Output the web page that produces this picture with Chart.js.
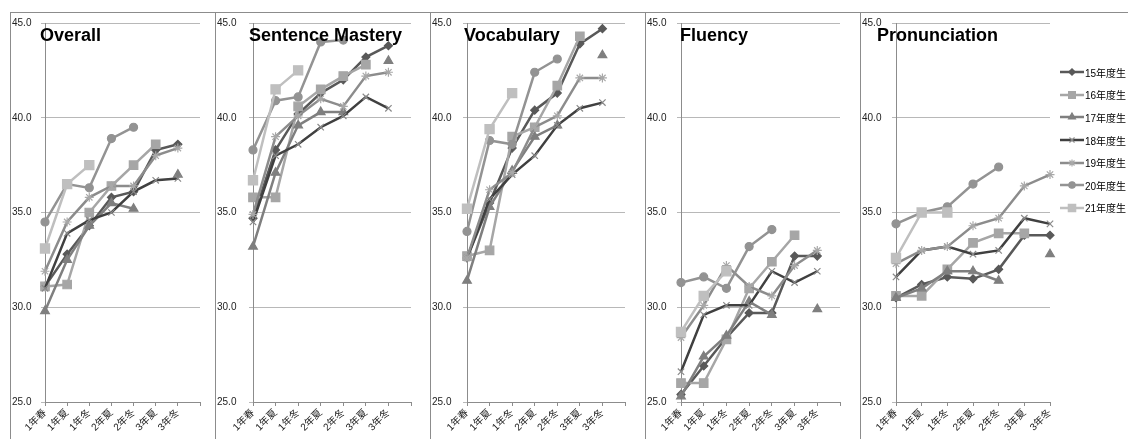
<!DOCTYPE html>
<html>
<head>
<meta charset="utf-8">
<script src="https://cdn.jsdelivr.net/npm/chart.js@4.4.1/dist/chart.umd.min.js"></script>
<style>
body { margin: 0; background: #fff; width: 1128px; height: 439px; overflow: hidden; position: relative;
       font-family: "Liberation Sans", "Noto Sans CJK JP", sans-serif; }
.panel { position: absolute; top: 12px; height: 427px; }
.panel canvas { position: absolute; left: 0; top: 0; }
.frame { position: absolute; left: 0; top: 0; right: 0; bottom: 0; border-left: 1px solid #8c8c8c; border-top: 1px solid #8c8c8c; pointer-events: none; }
#legend { position: absolute; left: 1060px; top: 61px; }
.item { height: 22.6px; display: flex; align-items: center; font-size: 10px; color: #000; }
.item canvas { margin-right: 1px; }
</style>
</head>
<body>
<div id="legend"></div>
<script>
// 時期ラベル
var terms = ['1年春', '1年夏', '1年冬', '2年夏', '2年冬', '3年夏', '3年冬'];
var cohorts = ['15年度生', '16年度生', '17年度生', '18年度生', '19年度生', '20年度生', '21年度生'];
var yTicks = [25, 30, 35, 40, 45];

// 各科目のスコア（行 = 15年度生 … 21年度生）
var overall = [
    [31.1, 32.8, 34.3, 35.8, 36.1, 38.3, 38.6],
    [31.1, 31.2, 35.0, 36.4, 37.5, 38.6, null],
    [29.8, 32.5, 34.3, 35.5, 35.2, null, 37.0],
    [31.0, 33.9, 34.6, 35.0, 36.1, 36.7, 36.8],
    [31.9, 34.5, 35.8, 36.4, 36.4, 38.0, 38.4],
    [34.5, 36.5, 36.3, 38.9, 39.5, null, null],
    [33.1, 36.5, 37.5, null, null, null, null]
];
var sentence = [
    [34.7, 38.3, 40.2, 41.3, 42.0, 43.2, 43.8],
    [35.8, 35.8, 40.6, 41.5, 42.2, 42.8, null],
    [33.2, 37.1, 39.6, 40.3, 40.3, null, 43.0],
    [34.5, 38.0, 38.6, 39.5, 40.1, 41.1, 40.5],
    [34.9, 39.0, 40.1, 41.0, 40.6, 42.2, 42.4],
    [38.3, 40.9, 41.1, 44.0, 44.1, null, null],
    [36.7, 41.5, 42.5, null, null, null, null]
];
var vocabulary = [
    [32.6, 35.5, 38.4, 40.4, 41.3, 43.9, 44.7],
    [32.7, 33.0, 39.0, 39.5, 41.7, 44.3, null],
    [31.4, 35.3, 37.2, 39.0, 39.6, null, 43.3],
    [32.6, 35.7, 37.0, 38.0, 39.6, 40.5, 40.8],
    [32.6, 36.2, 37.1, 39.5, 40.1, 42.1, 42.1],
    [34.0, 38.8, 38.6, 42.4, 43.1, null, null],
    [35.2, 39.4, 41.3, null, null, null, null]
];
var fluency = [
    [25.4, 26.9, 28.4, 29.7, 29.7, 32.7, 32.7],
    [26.0, 26.0, 28.3, 31.0, 32.4, 33.8, null],
    [25.3, 27.4, 28.5, 30.3, 29.6, null, 29.9],
    [26.6, 29.6, 30.1, 30.1, 31.9, 31.3, 31.9],
    [28.4, 30.1, 32.2, 31.1, 30.6, 32.2, 33.0],
    [31.3, 31.6, 31.0, 33.2, 34.1, null, null],
    [28.7, 30.6, 31.9, null, null, null, null]
];
var pronunciation = [
    [30.5, 31.2, 31.6, 31.5, 32.0, 33.8, 33.8],
    [30.6, 30.6, 32.0, 33.4, 33.9, 33.9, null],
    [30.5, 31.0, 31.9, 31.9, 31.4, null, 32.8],
    [31.6, 33.0, 33.2, 32.8, 33.0, 34.7, 34.4],
    [32.3, 33.0, 33.2, 34.3, 34.7, 36.4, 37.0],
    [34.4, 35.0, 35.3, 36.5, 37.4, null, null],
    [32.6, 35.0, 35.0, null, null, null, null]
];

// 系列のスタイル
var lineColors  = ['#595959', '#a6a6a6', '#7f7f7f', '#404040', '#8c8c8c', '#939393', '#bfbfbf'];
var markColors  = ['#595959', '#a6a6a6', '#7f7f7f', '#8a8a8a', '#a8a8a8', '#939393', '#bfbfbf'];
var markStyles  = ['rectRot', 'rect', 'triangle', 'crossRot', 'star', 'circle', 'rect'];
var markRadius  = [4, 6, 5, 4.5, 4.5, 4, 6.5];

var FONT = '"Liberation Sans", "Noto Sans CJK JP", sans-serif';

// パネル配置
var panels = [
    { title: 'Overall',          data: overall,       left: 10,  right: 215,  axisX: 45,  gridEnd: 200,  titleX: 30, extraCat: true },
    { title: 'Sentence Mastery', data: sentence,      left: 215, right: 430,  axisX: 253, gridEnd: 411,  titleX: 34, extraCat: true },
    { title: 'Vocabulary',       data: vocabulary,    left: 430, right: 645,  axisX: 467, gridEnd: 625,  titleX: 34, extraCat: true },
    { title: 'Fluency',          data: fluency,       left: 645, right: 860,  axisX: 681, gridEnd: 840,  titleX: 35, extraCat: true },
    { title: 'Pronunciation',    data: pronunciation, left: 860, right: 1128, axisX: 896, gridEnd: 1050, titleX: 17, extraCat: false }
];

var titlePlugin = {
    id: 'panelTitle',
    afterDraw: function (chart, args, opts) {
        var ctx = chart.ctx;
        ctx.save();
        ctx.font = 'bold 18px "Liberation Sans", sans-serif';
        ctx.fillStyle = '#000';
        ctx.textBaseline = 'alphabetic';
        ctx.fillText(opts.text, opts.x, 29);
        ctx.restore();
    }
};

panels.forEach(function (p) {
    var w = p.right - p.left;
    var wrap = document.createElement('div');
    wrap.className = 'panel';
    wrap.style.left = p.left + 'px';
    wrap.style.width = w + 'px';
    var canvas = document.createElement('canvas');
    canvas.width = w;
    canvas.height = 427;
    wrap.appendChild(canvas);
    var frame = document.createElement('div');
    frame.className = 'frame';
    wrap.appendChild(frame);
    document.body.appendChild(wrap);

    var labels = p.extraCat ? terms.concat(['']) : terms.slice();

    new Chart(canvas, {
        type: 'line',
        data: {
            labels: labels,
            datasets: cohorts.map(function (name, i) {
                return {
                    label: name,
                    data: p.data[i],
                    borderColor: lineColors[i],
                    backgroundColor: markColors[i],
                    borderWidth: 2.5,
                    pointStyle: markStyles[i],
                    pointRadius: markRadius[i],
                    pointBackgroundColor: markColors[i],
                    pointBorderColor: markColors[i],
                    pointBorderWidth: 1.2,
                    spanGaps: false,
                    tension: 0,
                    order: 7 - i
                };
            })
        },
        options: {
            responsive: false,
            animation: false,
            layout: { padding: { left: 2, top: 11, right: p.right - p.gridEnd, bottom: 0 } },
            plugins: {
                legend: { display: false },
                tooltip: { enabled: false },
                panelTitle: { text: p.title, x: p.titleX }
            },
            scales: {
                x: {
                    grid: { drawOnChartArea: false, tickLength: 4, color: '#8c8c8c' },
                    border: { color: '#8c8c8c' },
                    ticks: { autoSkip: false, maxRotation: 45, minRotation: 45, padding: 1,
                             font: { size: 10, family: FONT }, color: '#222' },
                    afterFit: function (s) { s.height = 37; }
                },
                y: {
                    min: yTicks[0],
                    max: yTicks[yTicks.length - 1],
                    afterBuildTicks: function (s) { s.ticks = yTicks.map(function (v) { return { value: v }; }); },
                    ticks: { crossAlign: 'far', font: { size: 10, family: FONT }, color: '#222',
                             callback: function (v) { return Number(v).toFixed(1); } },
                    grid: { color: '#b8b8b8', tickLength: 4 },
                    border: { color: '#8c8c8c' },
                    afterFit: function (s) { s.width = p.axisX - p.left - 2; }
                }
            }
        },
        plugins: [titlePlugin]
    });
});

// 凡例
var legend = document.getElementById('legend');
cohorts.forEach(function (name, i) {
    var item = document.createElement('div');
    item.className = 'item';
    var cv = document.createElement('canvas');
    cv.width = 24;
    cv.height = 12;
    var g = cv.getContext('2d');
    g.strokeStyle = lineColors[i];
    g.lineWidth = 2.5;
    g.beginPath();
    g.moveTo(0, 6);
    g.lineTo(24, 6);
    g.stroke();
    g.fillStyle = markColors[i];
    g.strokeStyle = markColors[i];
    g.lineWidth = 1.2;
    if (Chart.helpers && Chart.helpers.drawPoint) {
        Chart.helpers.drawPoint(g, { pointStyle: markStyles[i], radius: markRadius[i] * 0.8, borderWidth: 1.2, rotation: 0 }, 12, 6);
    }
    var span = document.createElement('span');
    span.textContent = name;
    item.appendChild(cv);
    item.appendChild(span);
    legend.appendChild(item);
});
</script>
</body>
</html>
